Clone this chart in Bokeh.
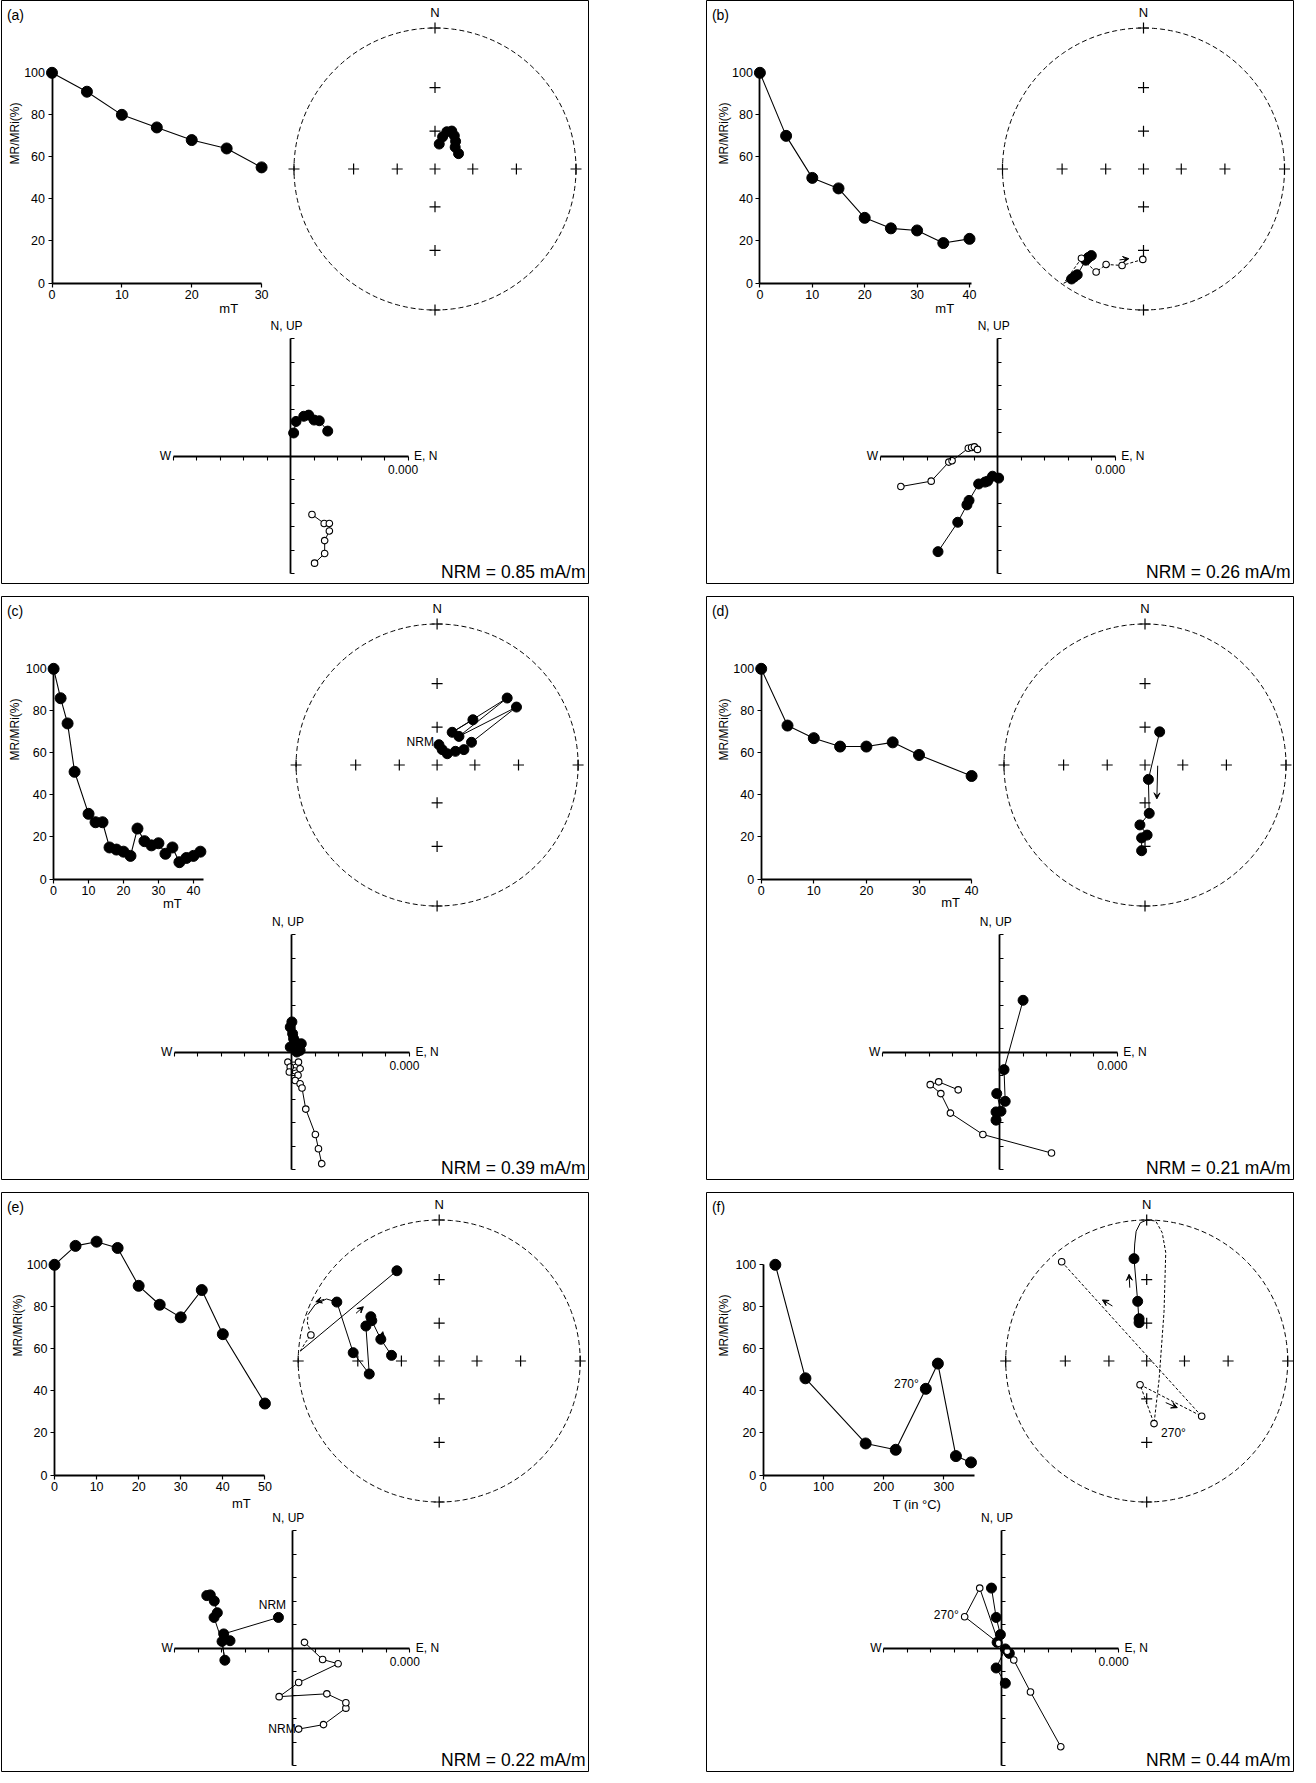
import numpy as np
from bokeh.plotting import figure
from bokeh.models import Range1d, LinearAxis, FixedTicker, Arrow, VeeHead, Spacer
from bokeh.layouts import row, column
from bokeh.embed import file_html
from bokeh.resources import INLINE
from bokeh.core.properties import value

FONT = "Liberation Sans"

# ===================== DATA =====================
# demag curves: field (mT) or temperature (degC) vs MR/MRi (%)
# stereonet: projected (E, N) positions on the unit net
# Zijderveld: filled = horizontal projection, open = vertical projection (tick units)

# ---- (a)
a_field = [0, 5, 10, 15, 20, 25, 30]
a_mr = [100, 91, 80, 74, 68, 64, 55]
a_net_fx = [0.030, 0.054, 0.084, 0.119, 0.137, 0.146, 0.143, 0.167]
a_net_fy = [0.177, 0.228, 0.264, 0.269, 0.236, 0.196, 0.155, 0.109]
a_hz_x = [0.13, 0.23, 0.56, 0.77, 1.00, 1.22, 1.58]
a_hz_y = [0.98, 1.47, 1.69, 1.74, 1.53, 1.50, 1.06]
a_vt_x = [0.91, 1.43, 1.65, 1.65, 1.45, 1.45, 1.02]
a_vt_y = [-2.49, -2.87, -2.87, -3.19, -3.60, -4.15, -4.56]

# ---- (b)
b_field = [0, 5, 10, 15, 20, 25, 30, 35, 40]
b_mr = [100, 70, 50, 45, 31, 26, 25, 19, 21]
b_net_fx = [-0.51, -0.49, -0.47, -0.41, -0.39, -0.37]
b_net_fy = [-0.78, -0.765, -0.75, -0.647, -0.627, -0.614]
b_net_ox = [-0.005, -0.152, -0.265, -0.336, -0.44]
b_net_oy = [-0.641, -0.684, -0.677, -0.730, -0.633]
b_rim_x = [-0.565]
b_rim_y = [-0.81]
b_net_arrows = [(-0.17, -0.645, -0.104, -0.636)]
b_hz_x = [-2.54, -1.70, -1.31, -1.22, -0.81, -0.54, -0.43, -0.22, 0.04]
b_hz_y = [-4.07, -2.82, -2.08, -1.89, -1.19, -1.11, -1.07, -0.86, -0.94]
b_vt_x = [-4.12, -2.83, -2.08, -1.94, -1.25, -1.11, -0.99, -0.86]
b_vt_y = [-1.30, -1.07, -0.26, -0.20, 0.33, 0.36, 0.39, 0.28]

# ---- (c)
c_field = [0, 2, 4, 6, 10, 12, 14, 16, 18, 20, 22, 24, 26, 28, 30, 32, 34, 36, 38, 40, 42]
c_mr = [100, 86, 74, 51, 31, 27, 27, 15, 14, 13, 11, 24, 18, 16, 17, 12, 15, 8, 10, 11, 13]
c_net_fx = [0.013, 0.036, 0.072, 0.130, 0.190, 0.244, 0.155, 0.107, 0.254, 0.497, 0.563]
c_net_fy = [0.144, 0.109, 0.080, 0.097, 0.109, 0.161, 0.203, 0.232, 0.321, 0.475, 0.411]
c_net_path = [0, 1, 2, 3, 4, 5, 10, 6, 9, 7, 8]
c_hz_x = [0.00, -0.07, 0.03, 0.07, 0.14, 0.40, -0.07, 0.21, 0.35]
c_hz_y = [1.28, 1.06, 0.78, 0.57, 0.43, 0.35, 0.21, 0.00, 0.07]
c_vt_x = [-0.17, 0.28, -0.07, 0.35, -0.11, 0.26, 0.14, 0.35, 0.43, 0.59, 1.00, 1.13, 1.27]
c_vt_y = [-0.43, -0.43, -0.64, -0.71, -0.85, -0.99, -1.21, -1.35, -1.53, -2.43, -3.51, -4.12, -4.75]

# ---- (d)
d_field = [0, 5, 10, 15, 20, 25, 30, 40]
d_mr = [100, 73, 67, 63, 63, 65, 59, 49]
d_net_fx = [0.104, 0.024, 0.030, -0.036, 0.015, -0.024, -0.024]
d_net_fy = [0.235, -0.102, -0.343, -0.425, -0.497, -0.517, -0.608]
d_net_arrows = [(0.09, -0.005, 0.084, -0.24)]
d_hz_x = [0.99, 0.18, 0.23, -0.13, 0.05, -0.16, -0.16]
d_hz_y = [2.20, -0.75, -2.10, -1.77, -2.52, -2.55, -2.90]
d_vt_x = [-1.77, -2.60, -2.96, -2.51, -2.10, -0.72, 2.20]
d_vt_y = [-1.61, -1.27, -1.39, -1.77, -2.60, -3.51, -4.30]

# ---- (e)
e_field = [0, 5, 10, 15, 20, 25, 30, 35, 40, 50]
e_mr = [100, 109, 111, 108, 90, 81, 75, 88, 67, 34]
e_net_fx = [-0.300, -0.726, -0.610, -0.496, -0.520, -0.485, -0.478, -0.414, -0.338]
e_net_fy = [0.640, 0.418, 0.059, -0.092, 0.248, 0.314, 0.286, 0.154, 0.040]
e_net_ox = [-0.91]
e_net_oy = [0.184]
e_arc_x = [-0.985, -0.95, -0.91, -0.935, -0.93]
e_arc_y = [0.07, 0.13, 0.184, 0.27, 0.33]
e_hook_x = [-0.93, -0.88, -0.80, -0.726]
e_hook_y = [0.33, 0.40, 0.44, 0.418]
e_net_arrows = [(-0.59, 0.338, -0.538, 0.385), (-0.414, 0.125, -0.40, 0.208),
                (-0.816, 0.437, -0.875, 0.42)]
e_hz_x = [-3.64, -3.49, -3.32, -3.19, -3.33, -2.92, -2.99, -2.65, -2.87, -0.59]
e_hz_y = [2.23, 2.26, 2.00, 1.50, 1.30, 0.60, 0.28, 0.31, -0.52, 1.30]
e_hz_path = [9, 5, 7, 6, 8, 6, 4, 3, 2, 1, 0]
e_vt_x = [0.27, 1.33, 2.28, 2.28, 1.47, -0.56, 0.27, 1.95, 1.29, 0.52]
e_vt_y = [-3.45, -3.26, -2.56, -2.33, -1.95, -2.07, -1.47, -0.67, -0.49, 0.24]

# ---- (f) thermal
f_temp = [20, 70, 170, 220, 270, 290, 320, 345]
f_mr = [100, 46, 15, 12, 41, 53, 9, 6]
f_net_fx = [-0.090, -0.064, -0.054, -0.054]
f_net_fy = [0.726, 0.423, 0.300, 0.272]
f_net_ox = [-0.603, 0.390, -0.047, 0.052]
f_net_oy = [0.704, -0.392, -0.168, -0.444]
f_up_x = [-0.054, -0.064, -0.090, -0.085, -0.075, -0.045, 0.0]
f_up_y = [0.272, 0.423, 0.726, 0.83, 0.92, 0.98, 1.0]
f_loop_x = [0.0, 0.064, 0.110, 0.135, 0.123, 0.088, 0.052]
f_loop_y = [1.0, 0.993, 0.91, 0.77, 0.35, -0.13, -0.444]
f_net_arrows = [(-0.243, 0.39, -0.314, 0.433), (0.135, -0.295, 0.217, -0.331),
                (-0.12, 0.52, -0.125, 0.615)]
f_hz_x = [-0.41, -0.21, -0.03, -0.17, 0.18, 0.35, -0.21, 0.18]
f_hz_y = [2.55, 1.30, 0.57, 0.24, -0.04, -0.23, -0.85, -1.50]
f_hz_path = [0, 1, 2, 3, 5, 4, 6, 7]
f_vt_x = [-0.10, -0.91, -1.55, 0.26, 0.54, 1.25, 2.54]
f_vt_y = [0.20, 2.55, 1.33, -0.14, -0.51, -1.87, -4.20]
f_vt_path = [0, 1, 2, 0, 3, 4, 5, 6]

mr_ticks = [0, 20, 40, 60, 80, 100]
net_inc_ticks = [0, 30, 60]      # inclination crosses (stereographic)
zij_ticks = list(range(-5, 6))

# ===================== LAYOUT CONSTANTS =====================
W = 588
DM_Y0, DM_Y100 = 282.5, 72.3
NET_CY, NET_R = 168.5, 141.0
ZJ_OY, ZJ_T = 455.5, 23.5


def lin_range(d0, d1, p0, p1, total):
    s = (d1 - d0) / (p1 - p0)
    start = d0 - p0 * s
    return Range1d(start=start, end=start + total * s)


def txt(p, x, y, s, size, align="left", baseline="middle", xo=0, yo=0, rn=None, angle=0.0):
    kw = {}
    if rn:
        kw = dict(x_range_name=rn, y_range_name=rn)
    p.text(x=[x], y=[y], text=[s], text_font=value(FONT), text_font_size=f"{size}px",
           text_align=align, text_baseline=baseline, x_offset=xo, y_offset=yo,
           text_color="black", angle=angle, **kw)


def pick(xs, ys, order):
    if order is None:
        return list(xs), list(ys)
    return [xs[i] for i in order], [ys[i] for i in order]


def make_panel(c, H):
    p = figure(width=W + 1, height=H, x_range=Range1d(0, W), y_range=Range1d(H, 0),
               min_border_left=1, min_border_right=0, min_border_top=0, min_border_bottom=0,
               output_backend="svg", toolbar_location=None, x_axis_type=None, y_axis_type=None,
               title=None, outline_line_color="black", outline_line_width=1,
               background_fill_color="white", border_fill_color="white")
    xt = c["xticks"]
    x0, x1 = c["xpx"]
    cx = c["net_cx"]
    ox = c["zj_ox"]
    p.extra_x_ranges = {
        "dm": lin_range(xt[0], xt[-1], x0, x1, W),
        "net": lin_range(-1, 1, cx - NET_R, cx + NET_R, W),
        "zj": lin_range(-5, 5, ox - 5 * ZJ_T, ox + 5 * ZJ_T, W),
    }
    p.extra_y_ranges = {
        "dm": lin_range(0, 100, H - DM_Y0, H - DM_Y100, H),
        "net": lin_range(-1, 1, H - (NET_CY + NET_R), H - (NET_CY - NET_R), H),
        "zj": lin_range(-5, 5, H - (ZJ_OY + 5 * ZJ_T), H - (ZJ_OY - 5 * ZJ_T), H),
    }

    # ---------- demag curve with its own axes ----------
    axb = LinearAxis(x_range_name="dm", y_range_name="dm", fixed_location=0,
                     bounds=(0, c["xend"]), ticker=FixedTicker(ticks=xt))
    axl = LinearAxis(x_range_name="dm", y_range_name="dm", fixed_location=0,
                     bounds=(0, 100), ticker=FixedTicker(ticks=mr_ticks))
    for a in (axb, axl):
        a.axis_line_width = 1.8
        a.axis_line_color = "black"
        a.major_tick_line_width = 1.2
        a.major_tick_out = 4
        a.major_tick_in = 0
        a.minor_tick_line_color = None
        a.major_label_text_font = FONT
        a.major_label_text_font_size = "12.5px"
        a.major_label_text_color = "black"
        a.major_label_standoff = 3
    p.add_layout(axb, "below")
    p.add_layout(axl, "left")
    p.line(c["field"], c["mr"], x_range_name="dm", y_range_name="dm",
           line_color="black", line_width=1.1)
    p.scatter(c["field"], c["mr"], x_range_name="dm", y_range_name="dm", marker="circle",
              size=11, fill_color="black", line_color="black")
    lx, ly = c["xlab_pos"]
    txt(p, lx, ly, c["xlab"], 13, align="center")
    txt(p, c["ylab_x"], 133, "MR/MRi(%)", 12, align="center", angle=np.pi / 2)
    for (x, y, s, al, xo, yo) in c.get("dm_labels", []):
        txt(p, x, y, s, 12, align=al, xo=xo, yo=yo, rn="dm")

    # ---------- stereonet ----------
    th = np.linspace(0, 2 * np.pi, 361)
    p.line(np.cos(th), np.sin(th), x_range_name="net", y_range_name="net",
           line_color="black", line_width=1, line_dash="5 3")
    rr = [float(np.tan(np.radians(90 - i) / 2)) for i in net_inc_ticks]
    cxs = [0.0] + [s * r for r in rr for s in (-1, 1)] + [0.0] * (2 * len(rr))
    cys = [0.0] + [0.0] * (2 * len(rr)) + [s * r for r in rr for s in (-1, 1)]
    p.scatter(cxs, cys, x_range_name="net", y_range_name="net", marker="cross",
              size=11, line_color="black", line_width=1.2)
    txt(p, cx, 12, "N", 13, align="center")
    for (xs, ys, dash) in c.get("net_tracks", []):
        p.line(xs, ys, x_range_name="net", y_range_name="net", line_color="black",
               line_width=1, line_dash=dash)
    fx, fy = c["net_f"]
    if c.get("net_f_line", True):
        lxs, lys = pick(fx, fy, c.get("net_f_path"))
        p.line(lxs, lys, x_range_name="net", y_range_name="net", line_color="black", line_width=1)
    if "net_o" in c:
        ox_, oy_ = c["net_o"]
        if c.get("net_o_line", True):
            p.line(ox_, oy_, x_range_name="net", y_range_name="net", line_color="black",
                   line_width=1, line_dash="3 2")
    p.scatter(fx, fy, x_range_name="net", y_range_name="net", marker="circle", size=10,
              fill_color="black", line_color="black")
    if "net_o" in c:
        p.scatter(ox_, oy_, x_range_name="net", y_range_name="net", marker="circle", size=6.5,
                  fill_color="white", line_color="black", line_width=1.1)
    for (xa, ya, xb, yb) in c.get("net_arrows", []):
        p.add_layout(Arrow(end=VeeHead(size=6, line_width=1, line_color="black", fill_color="black"),
                           x_start=xa, y_start=ya, x_end=xb, y_end=yb,
                           x_range_name="net", y_range_name="net",
                           line_color="black", line_width=1))
    for (x, y, s, al, xo, yo) in c.get("net_labels", []):
        txt(p, x, y, s, 12, align=al, xo=xo, yo=yo, rn="net")

    # ---------- Zijderveld diagram ----------
    zb = LinearAxis(x_range_name="zj", y_range_name="zj", fixed_location=0,
                    bounds=(-5, 5), ticker=FixedTicker(ticks=zij_ticks))
    zl = LinearAxis(x_range_name="zj", y_range_name="zj", fixed_location=0,
                    bounds=(-5, 5), ticker=FixedTicker(ticks=zij_ticks))
    for a in (zb, zl):
        a.axis_line_width = 1.8
        a.axis_line_color = "black"
        a.major_tick_line_width = 1.1
        a.minor_tick_line_color = None
        a.major_label_text_color = None
    zb.major_tick_out, zb.major_tick_in = 4, 0
    zl.major_tick_out, zl.major_tick_in = 0, 4
    p.add_layout(zb, "below")
    p.add_layout(zl, "left")
    txt(p, -5, 0, "W", 12, align="right", xo=-2, rn="zj")
    txt(p, 5, 0, "E, N", 12, align="left", xo=6, rn="zj")
    txt(p, 5, 0, "0.000", 12, align="center", xo=-5, yo=13.5, rn="zj")
    txt(p, 0, 5, "N, UP", 12, align="center", xo=-4, yo=-13, rn="zj")
    hx, hy = c["zh"]
    lxs, lys = pick(hx, hy, c.get("zh_path"))
    p.line(lxs, lys, x_range_name="zj", y_range_name="zj", line_color="black", line_width=1)
    vx, vy = c["zv"]
    lxs, lys = pick(vx, vy, c.get("zv_path"))
    p.line(lxs, lys, x_range_name="zj", y_range_name="zj", line_color="black", line_width=1)
    p.scatter(hx, hy, x_range_name="zj", y_range_name="zj", marker="circle", size=10,
              fill_color="black", line_color="black")
    p.scatter(vx, vy, x_range_name="zj", y_range_name="zj", marker="circle", size=6.5,
              fill_color="white", line_color="black", line_width=1.1)
    for (x, y, s, al, xo, yo) in c.get("zj_labels", []):
        txt(p, x, y, s, 12, align=al, xo=xo, yo=yo, rn="zj")

    # ---------- panel texts ----------
    txt(p, 5.4, 14.5, c["tag"], 14, align="left")
    txt(p, 584, H - 13, c["nrm"], 17.5, align="right")
    return p


PANELS = [
    dict(tag="(a)", nrm="NRM = 0.85 mA/m", field=a_field, mr=a_mr,
         xticks=[0, 10, 20, 30], xend=30, xpx=(50.5, 260.1), xlab="mT", xlab_pos=(227.2, 307.7),
         ylab_x=13.8, net_cx=433.5, zj_ox=289.1,
         net_f=(a_net_fx, a_net_fy), zh=(a_hz_x, a_hz_y), zv=(a_vt_x, a_vt_y)),
    dict(tag="(b)", nrm="NRM = 0.26 mA/m", field=b_field, mr=b_mr,
         xticks=[0, 10, 20, 30, 40], xend=40.3, xpx=(53.4, 263.0), xlab="mT", xlab_pos=(238.2, 307.7),
         ylab_x=17.7, net_cx=437.0, zj_ox=291.2,
         net_f=(b_net_fx, b_net_fy), net_f_line=False,
         net_o=(b_net_ox, b_net_oy), net_o_line=False,
         net_tracks=[(b_net_ox + b_rim_x, b_net_oy + b_rim_y, "3 2"),
                     (b_rim_x + b_net_fx, b_rim_y + b_net_fy, "solid")],
         net_arrows=b_net_arrows,
         zh=(b_hz_x, b_hz_y), zv=(b_vt_x, b_vt_y)),
    dict(tag="(c)", nrm="NRM = 0.39 mA/m", field=c_field, mr=c_mr,
         xticks=[0, 10, 20, 30, 40], xend=43, xpx=(52.1, 191.9), xlab="mT", xlab_pos=(170.8, 307.4),
         ylab_x=13.8, net_cx=435.6, zj_ox=290.4,
         net_f=(c_net_fx, c_net_fy), net_f_path=c_net_path,
         net_labels=[(c_net_fx[0], c_net_fy[0], "NRM", "right", -5, -3)],
         zh=(c_hz_x, c_hz_y), zv=(c_vt_x, c_vt_y)),
    dict(tag="(d)", nrm="NRM = 0.21 mA/m", field=d_field, mr=d_mr,
         xticks=[0, 10, 20, 30, 40], xend=40, xpx=(54.7, 265.1), xlab="mT", xlab_pos=(244.1, 306.2),
         ylab_x=17.7, net_cx=438.5, zj_ox=293.3,
         net_f=(d_net_fx, d_net_fy), net_arrows=d_net_arrows,
         zh=(d_hz_x, d_hz_y), zv=(d_vt_x, d_vt_y)),
    dict(tag="(e)", nrm="NRM = 0.22 mA/m", field=e_field, mr=e_mr,
         xticks=[0, 10, 20, 30, 40, 50], xend=50, xpx=(53.0, 263.4), xlab="mT", xlab_pos=(239.9, 310.6),
         ylab_x=16.0, net_cx=437.7, zj_ox=290.8,
         net_f=(e_net_fx, e_net_fy), net_f_path=list(range(1, len(e_net_fx))),
         net_o=(e_net_ox, e_net_oy), net_o_line=False,
         net_tracks=[([e_net_fx[0], e_arc_x[0]], [e_net_fy[0], e_arc_y[0]], "solid"),
                     (e_arc_x, e_arc_y, "3 2"),
                     (e_hook_x, e_hook_y, "solid")],
         net_arrows=e_net_arrows,
         zh=(e_hz_x, e_hz_y), zh_path=e_hz_path, zv=(e_vt_x, e_vt_y),
         zj_labels=[(e_hz_x[9], e_hz_y[9], "NRM", "center", -6, -12),
                    (e_vt_x[0], e_vt_y[0], "NRM", "right", -3, 0)]),
    dict(tag="(f)", nrm="NRM = 0.44 mA/m", field=f_temp, mr=f_mr,
         xticks=[0, 100, 200, 300], xend=350, xpx=(56.8, 237.4), xlab="T (in °C)", xlab_pos=(210.4, 312.0),
         ylab_x=17.0, net_cx=440.2, zj_ox=294.6,
         dm_labels=[(f_temp[4], f_mr[4], "270°", "right", -7, -5)],
         net_f=(f_net_fx, f_net_fy), net_f_line=False,
         net_o=(f_net_ox, f_net_oy),
         net_tracks=[(f_up_x, f_up_y, "solid"), (f_loop_x, f_loop_y, "3 2")],
         net_arrows=f_net_arrows,
         net_labels=[(f_net_ox[3], f_net_oy[3], "270°", "left", 7, 9)],
         zh=(f_hz_x, f_hz_y), zh_path=f_hz_path, zv=(f_vt_x, f_vt_y), zv_path=f_vt_path,
         zj_labels=[(f_vt_x[2], f_vt_y[2], "270°", "right", -6, -2)]),
]

ROW_H = [584, 584, 580]
figs = [make_panel(cfg, ROW_H[i // 2]) for i, cfg in enumerate(PANELS)]

layout = column(
    row(figs[0], Spacer(width=116), figs[1]),
    Spacer(height=12),
    row(figs[2], Spacer(width=116), figs[3]),
    Spacer(height=12),
    row(figs[4], Spacer(width=116), figs[5]),
)

open("out.html", "w").write(file_html(layout, INLINE, title="Demagnetisation diagrams"))
